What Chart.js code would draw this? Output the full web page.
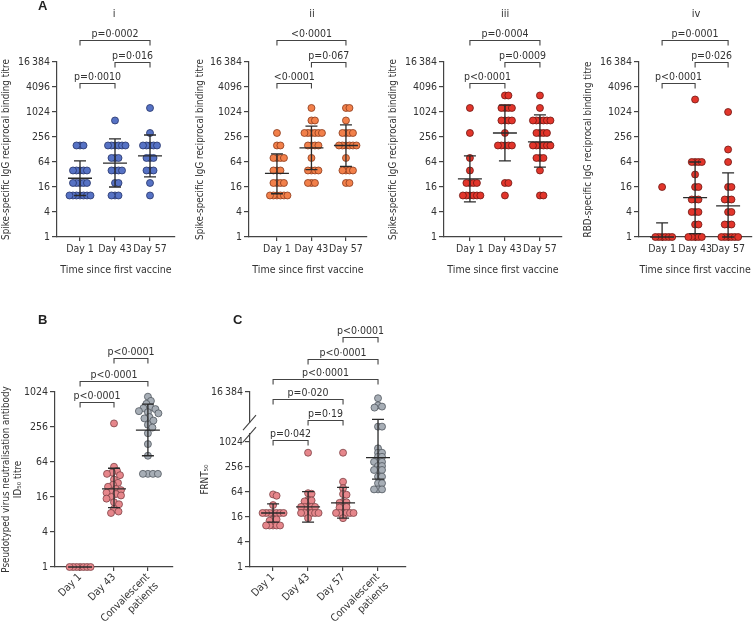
<!DOCTYPE html>
<html>
<head>
<meta charset="utf-8">
<script src="https://cdn.jsdelivr.net/npm/chart.js@4.4.0/dist/chart.umd.min.js"></script>
<style>
  body { margin: 0; background: #fff; width: 756px; height: 621px; position: relative; overflow: hidden;
         font-family: 'Liberation Sans Narrow', 'DejaVu Sans Condensed', sans-serif; color: #333; }
  canvas { position: absolute; left: 0; top: 0; z-index: 1; }
  .tag { position: absolute; z-index: 2; color: #222; font-family: 'Liberation Sans', sans-serif; font-weight: bold; font-size: 13px; }
  .sub { position: absolute; z-index: 2; color: #333; font-size: 11px; transform: translateX(-50%); }
</style>
</head>
<body>
<div class="tag" style="left:38px;top:-2px">A</div>
<div class="tag" style="left:38px;top:312px">B</div>
<div class="tag" style="left:233px;top:312px">C</div>
<div class="sub" style="left:114px;top:7px">i</div>
<div class="sub" style="left:312px;top:7px">ii</div>
<div class="sub" style="left:505px;top:7px">iii</div>
<div class="sub" style="left:696px;top:7px">iv</div>
<script>
// ---- data ----
const dayLabels = ['Day 1', 'Day 43', 'Day 57'];
const neutLabels = ['Day 1', 'Day 43', ['Convalescent', 'patients']];
const frntLabels = ['Day 1', 'Day 43', 'Day 57', ['Convalescent', 'patients']];
const ticksA = [1, 4, 16, 64, 256, 1024, 4096, 16384];
const ticksB = [1, 4, 16, 64, 256, 1024];
const ticksC = [1, 4, 16, 64, 256, 1024, 16384];

// panel A i - spike IgG
const iDay1 = [160, 160, 160, 40, 40, 40, 40, 40, 20, 20, 20, 20, 20, 10, 10, 10, 10, 10, 10, 10];
const iDay43 = [640, 160, 160, 160, 160, 160, 160, 80, 80, 80, 40, 40, 40, 40, 20, 20, 10, 10, 10];
const iDay57 = [1280, 320, 160, 160, 160, 160, 160, 80, 80, 80, 40, 40, 40, 20, 10];
const iMean = [26, 60, 90];
const iLow = [10, 16, 28];
const iHigh = [68, 230, 286];

// panel A ii
const iiDay1 = [320, 160, 160, 80, 80, 80, 80, 40, 40, 40, 20, 20, 20, 20, 10, 10, 10, 10, 10, 10];
const iiDay43 = [1280, 640, 640, 320, 320, 320, 320, 320, 320, 160, 160, 160, 160, 80, 40, 40, 40, 40, 20, 20, 20];
const iiDay57 = [1280, 1280, 640, 320, 320, 320, 320, 160, 160, 160, 160, 160, 160, 80, 40, 40, 40, 40, 20, 20];
const iiMean = [34, 140, 160];
const iiLow = [11, 42, 50];
const iiHigh = [100, 470, 500];

// panel A iii
const iiiDay1 = [1280, 320, 80, 40, 20, 20, 20, 20, 10, 10, 10, 10, 10, 10];
const iiiDay43 = [2560, 2560, 1280, 1280, 1280, 1280, 640, 640, 640, 640, 320, 160, 160, 160, 160, 160, 20, 20, 10];
const iiiDay57 = [2560, 1280, 640, 640, 640, 640, 640, 640, 320, 320, 320, 320, 160, 160, 160, 160, 160, 160, 80, 80, 80, 40, 10, 10];
const iiiMean = [25, 320, 195];
const iiiLow = [7, 68, 48];
const iiiHigh = [90, 1500, 870];

// panel A iv - RBD IgG
const ivDay1 = [16, 1, 1, 1, 1, 1, 1];
const ivDay43 = [2048, 64, 64, 64, 64, 32, 16, 16, 8, 8, 8, 4, 4, 4, 2, 2, 1, 1, 1, 1, 1];
const ivDay57 = [1024, 128, 64, 16, 16, 8, 8, 8, 4, 4, 2, 2, 2, 1, 1, 1, 1, 1, 1];
const ivMean = [1, 8.9, 5.6];
const ivLow = [1, 1.2, 1];
const ivHigh = [2.2, 64, 35];

// panel B - pseudovirus neutralisation
const bDay1 = [1, 1, 1, 1, 1, 1, 1];
const bDay43 = [295, 53, 45, 42, 40, 38, 32, 28, 26, 24, 22, 21, 20, 19, 18, 17, 16, 15, 13, 12, 10, 9, 8.5];
const bConv = [850, 720, 640, 560, 540, 520, 480, 460, 440, 380, 360, 330, 280, 250, 200, 130, 82, 40, 40, 40, 40];
const bMean = [1, 22, 227];
const bLow = [1, 10.5, 82];
const bHigh = [1, 50, 635];

// panel C - FRNT50
const cDay1 = [56, 52, 31, 20, 20, 20, 20, 20, 20, 20, 14, 14, 13, 10, 10, 10, 10, 10];
const cDay43 = [565, 60, 58, 41, 40, 38, 28, 28, 28, 28, 28, 20, 20, 20, 20, 20, 20, 15];
const cDay57 = [565, 113, 79, 57, 55, 37, 36, 35, 28, 28, 27, 20, 20, 20, 20, 20, 20, 15];
const cConv = [11600, 7800, 7300, 6900, 2400, 2400, 720, 565, 565, 450, 450, 340, 340, 340, 270, 270, 217, 217, 217, 150, 150, 104, 104, 74, 74, 74];
const cMean = [20, 28, 35, 430];
const cLow = [12, 12, 15, 130];
const cHigh = [33, 65, 83, 3600];

// ---- colours ----
const blue = ['#5672c4', '#26346a'];
const orange = ['#f2804a', '#8a3a1c'];
const red = ['#e2352b', '#6e1612'];
const pink = ['#e6868b', '#7e4246'];
const grey = ['#a7aeb6', '#525860'];
const ink = '#333';
const font = "'Liberation Sans Narrow', 'DejaVu Sans Condensed', sans-serif";
const fs = 10.5;

function yApprox(L, v) {
  return L.bottom - (L.bottom - L.top) * Math.log(v) / Math.log(L.ymax);
}

// simple beeswarm: spread equal / close values sideways
function swarm(values, idx, L, minDist) {
  const ppu = (L.right - L.axisX) / (L.xMax - L.xMin);
  const placed = [];
  const pts = [];
  values.slice().sort((a, b) => b - a).forEach(v => {
    const y = yApprox(L, v);
    let dx = 0;
    for (let k = 0; k < 400; k++) {
      const c = (k % 2 === 1 ? 1 : -1) * Math.ceil(k / 2) * 0.5;
      if (placed.every(p => (p.x - c) ** 2 + (p.y - y) ** 2 >= minDist * minDist)) { dx = c; break; }
    }
    placed.push({ x: dx, y: y });
    pts.push({ x: idx + dx / ppu, y: v });
  });
  return pts;
}

function makePanel(P) {
  const L = P.layout;
  const cv = document.createElement('canvas');
  cv.width = 756; cv.height = 621;
  document.body.appendChild(cv);

  const datasets = P.groups.map((g, i) => ({
    data: swarm(g, i, L, P.dotGap[i]),
    backgroundColor: P.colors[i][0],
    borderColor: P.colors[i][1],
    borderWidth: 0.8,
    pointRadius: 3.5,
    clip: false
  }));

  const statsPlugin = {
    id: 'stats',
    afterDatasetsDraw(chart) {
      const ctx = chart.ctx, xs = chart.scales.x, ys = chart.scales.y;
      ctx.save();
      ctx.strokeStyle = '#2a2a2a';
      ctx.lineWidth = 1.3;
      P.mean.forEach((m, i) => {
        const x = xs.getPixelForValue(i);
        const yl = ys.getPixelForValue(P.low[i]);
        const yh = ys.getPixelForValue(P.high[i]);
        const ym = ys.getPixelForValue(m);
        ctx.beginPath();
        ctx.moveTo(x, yl); ctx.lineTo(x, yh);
        ctx.moveTo(x - 6, yl); ctx.lineTo(x + 6, yl);
        ctx.moveTo(x - 6, yh); ctx.lineTo(x + 6, yh);
        ctx.moveTo(x - 12, ym); ctx.lineTo(x + 12, ym);
        ctx.stroke();
      });
      ctx.restore();
    },
    afterDraw(chart) {
      const ctx = chart.ctx, xs = chart.scales.x, ys = chart.scales.y;
      const top = chart.chartArea.top;
      ctx.save();
      ctx.strokeStyle = '#444';
      ctx.lineWidth = 1.1;
      ctx.fillStyle = ink;
      ctx.font = fs + 'px ' + font;
      ctx.textAlign = 'center';
      ctx.textBaseline = 'bottom';
      P.brackets.forEach(b => {
        const x1 = xs.getPixelForValue(b[0]), x2 = xs.getPixelForValue(b[1]);
        const y = Math.round(top + b[2]) + 0.5;
        ctx.beginPath();
        ctx.moveTo(x1, y + 5); ctx.lineTo(x1, y); ctx.lineTo(x2, y); ctx.lineTo(x2, y + 5);
        ctx.stroke();
        ctx.fillText(b[3], (x1 + x2) / 2, y - 1);
      });
      if (P.axisBreak) {
        const yb = ys.getPixelForValue(P.axisBreak);
        const xa = chart.chartArea.left;
        ctx.clearRect(xa - 2, yb - 5, 4, 10);
        ctx.beginPath();
        ctx.moveTo(xa - 7, yb + 2); ctx.lineTo(xa + 6, yb - 13);
        ctx.moveTo(xa - 7, yb + 14); ctx.lineTo(xa + 6, yb - 1);
        ctx.stroke();
      }
      ctx.restore();
    }
  };

  new Chart(cv, {
    type: 'scatter',
    data: { datasets: datasets },
    plugins: [statsPlugin],
    options: {
      responsive: false,
      animation: false,
      devicePixelRatio: 1,
      layout: { padding: { left: L.left, top: L.top, right: 756 - L.right, bottom: 621 - L.bottom - L.xH } },
      plugins: { legend: { display: false }, tooltip: { enabled: false } },
      scales: {
        x: {
          type: 'linear',
          min: L.xMin, max: L.xMax,
          afterBuildTicks: s => { s.ticks = P.labels.map((_, i) => ({ value: i })); },
          afterFit: s => { s.height = L.xH; },
          ticks: {
            autoSkip: false,
            minRotation: P.rot, maxRotation: P.rot,
            padding: P.rot ? 0 : 2,
            color: ink,
            font: { family: font, size: fs },
            callback: v => P.labels[v]
          },
          grid: { drawOnChartArea: false, drawTicks: true, tickLength: 4, color: '#444', lineWidth: 1.2 },
          border: { display: true, color: '#444', width: 1.2 },
          title: { display: !!P.xTitle, text: P.xTitle, color: ink, font: { family: font, size: fs }, padding: { top: 5, bottom: 0 } }
        },
        y: {
          type: 'logarithmic',
          min: 1, max: L.ymax,
          afterBuildTicks: s => { s.ticks = P.yTicks.map(v => ({ value: v })); },
          afterFit: s => { s.width = L.axisX - L.left; },
          ticks: {
            padding: 2,
            color: ink,
            font: { family: font, size: fs },
            callback: v => v === 16384 ? '16\u2009384' : String(v)
          },
          grid: { drawOnChartArea: false, drawTicks: true, tickLength: 5, color: '#444', lineWidth: 1.2 },
          border: { display: true, color: '#444', width: 1.2 },
          title: { display: true, text: P.yTitle, color: ink, font: { family: font, size: 9.8 }, padding: { top: 1, bottom: 0 } }
        }
      }
    }
  });
}

const layA = { top: 62, bottom: 237, ymax: 16384, xH: 40 };
const gapA = [3.4, 3.4, 3.4];

makePanel({
  layout: Object.assign({ axisX: 57, left: 0, right: 175, xMin: -0.657, xMax: 2.714 }, layA),
  groups: [iDay1, iDay43, iDay57], colors: [blue, blue, blue],
  mean: iMean, low: iLow, high: iHigh, labels: dayLabels, yTicks: ticksA, rot: 0, dotGap: gapA,
  xTitle: 'Time since first vaccine', yTitle: 'Spike-specific IgG reciprocal binding titre',
  brackets: [[0, 2, -22, 'p=0·0002'], [1, 2, 0, 'p=0·016'], [0, 1, 21, 'p=0·0010']]
});
makePanel({
  layout: Object.assign({ axisX: 249, left: 194, right: 367, xMin: -0.81, xMax: 2.61 }, layA),
  groups: [iiDay1, iiDay43, iiDay57], colors: [orange, orange, orange],
  mean: iiMean, low: iiLow, high: iiHigh, labels: dayLabels, yTicks: ticksA, rot: 0, dotGap: gapA,
  xTitle: 'Time since first vaccine', yTitle: 'Spike-specific IgG reciprocal binding titre',
  brackets: [[0, 2, -22, '<0·0001'], [1, 2, 0, 'p=0·067'], [0, 1, 21, '<0·0001']]
});
makePanel({
  layout: Object.assign({ axisX: 444, left: 387, right: 562, xMin: -0.74, xMax: 2.63 }, layA),
  groups: [iiiDay1, iiiDay43, iiiDay57], colors: [red, red, red],
  mean: iiiMean, low: iiiLow, high: iiiHigh, labels: dayLabels, yTicks: ticksA, rot: 0, dotGap: gapA,
  xTitle: 'Time since first vaccine', yTitle: 'Spike-specific IgG reciprocal binding titre',
  brackets: [[0, 2, -22, 'p=0·0004'], [1, 2, 0, 'p=0·0009'], [0, 1, 21, 'p<0·0001']]
});
makePanel({
  layout: Object.assign({ axisX: 639, left: 582, right: 756, xMin: -0.70, xMax: 2.70 }, layA),
  groups: [ivDay1, ivDay43, ivDay57], colors: [red, red, red],
  mean: ivMean, low: ivLow, high: ivHigh, labels: dayLabels, yTicks: ticksA, rot: 0, dotGap: gapA,
  xTitle: 'Time since first vaccine', yTitle: 'RBD-specific IgG reciprocal binding titre',
  brackets: [[0, 2, -22, 'p=0·0001'], [1, 2, 0, 'p=0·026'], [0, 1, 21, 'p<0·0001']]
});
makePanel({
  layout: { axisX: 55, left: 0, right: 173, top: 392, bottom: 567, ymax: 1024, xH: 54, xMin: -0.74, xMax: 2.74 },
  groups: [bDay1, bDay43, bConv], colors: [pink, pink, grey],
  mean: bMean, low: bLow, high: bHigh, labels: neutLabels, yTicks: ticksB, rot: 45, dotGap: [3.2, 5, 5],
  xTitle: '', yTitle: ['Pseudotyped virus neutralisation antibody', 'ID\u2085\u2080 titre'],
  brackets: [[1, 2, -34, 'p<0·0001'], [0, 2, -11, 'p<0·0001'], [0, 1, 10, 'p<0·0001']]
});
makePanel({
  layout: { axisX: 250, left: 199, right: 406, top: 392, bottom: 567, ymax: 16384, xH: 54, xMin: -0.66, xMax: 3.8 },
  groups: [cDay1, cDay43, cDay57, cConv], colors: [pink, pink, pink, grey],
  mean: cMean, low: cLow, high: cHigh, labels: frntLabels, yTicks: ticksC, rot: 45, dotGap: [3.4, 3.4, 3.4, 3.8],
  xTitle: '', yTitle: 'FRNT\u2085\u2080', axisBreak: 2200,
  brackets: [[2, 3, -55, 'p<0·0001'], [1, 3, -33, 'p<0·0001'], [0, 3, -13, 'p<0·0001'],
             [0, 2, 7, 'p=0·020'], [1, 2, 28, 'p=0·19'], [0, 1, 48, 'p=0·042']]
});
</script>
</body>
</html>
